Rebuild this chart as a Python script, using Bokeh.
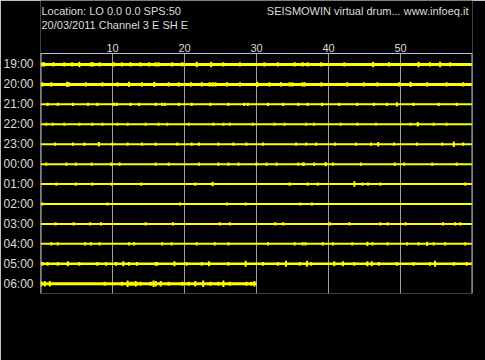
from bokeh.plotting import figure
from bokeh.models import Range1d, FixedTicker, ColumnDataSource
from bokeh.core.properties import value
from bokeh.embed import file_html
from bokeh.resources import INLINE

# ---------------- data ----------------
hours = ["19:00", "20:00", "21:00", "22:00", "23:00", "00:00",
         "01:00", "02:00", "03:00", "04:00", "05:00", "06:00"]
minute_ticks = [10, 20, 30, 40, 50]
minute_labels = ["10", "20", "30", "40", "50"]
trace_end = [60, 60, 60, 60, 60, 60, 60, 60, 60, 60, 60, 30]

header_left_1 = "Location: LO 0.0 0.0 SPS:50"
header_left_2 = "20/03/2011  Channel 3 E SH E"
header_right = "SEISMOWIN virtual drum... www.infoeq.it"

# spike times (minutes) and amplitudes (counts) per hour line
t_1900 = [0.3, 0.5, 1.8, 3.3, 4.4, 5.4, 7.0, 7.3, 8.2, 10.2, 11.3, 12.5, 13.9, 15.1, 16.0, 16.4, 18.3,
          19.7, 21.7, 23.7, 25.4, 27.7, 31.1, 33.0, 35.3, 36.4, 37.1, 39.0, 42.2, 46.2, 48.4, 52.5,
          54.1, 55.5, 56.9]
a_1900 = [1, 1, 1, 1, 1, 2, 1, 1, 1, 1, 1, 1, 1, 1, 1, 1, 1,
          1, 2, 2, 1, 1, 1, 1, 1, 1, 1, 1, 1, 2, 1, 2,
          1, 2, 1]
t_2000 = [0.25, 1.5, 3.7, 4.0, 6.3, 8.6, 10.7, 12.3, 14.1, 15.8, 17.8, 19.2, 20.9, 22.4, 23.5, 23.9,
          24.3, 25.9, 27.7, 30.1, 31.8, 33.4, 34.6, 35.0, 36.4, 36.7, 39.0, 42.6, 44.9, 46.8, 49.8,
          51.4, 53.7, 56.4, 58.7]
a_2000 = [1, 1, 2, 1, 1, 1, 1, 2, 1, 2, 1, 1, 1, 1, 1, 1,
          1, 1, 1, 2, 1, 1, 1, 1, 1, 1, 1, 1, 1, 1, 1,
          2, 1, 1, 1]
t_2100 = [1.0, 2.4, 4.5, 6.6, 7.9, 10.2, 10.6, 12.5, 13.7, 16.0, 16.9, 17.3, 19.2, 21.0, 23.6, 26.1,
          28.3, 28.8, 31.6, 33.7, 35.8, 37.1, 39.1, 41.5, 44.0, 46.3, 48.1, 49.5, 51.8, 55.3, 57.8]
a_2100 = [1, 1, 1, 1, 1, 1, 1, 1, 1, 1, 1, 1, 1, 1, 1, 1,
          1, 1, 1, 1, 1, 1, 1, 1, 1, 1, 1, 2, 1, 1, 1]
t_2200 = [0.8, 1.7, 3.3, 5.4, 7.2, 8.6, 10.7, 12.1, 14.6, 16.4, 17.6, 20.6, 24.0, 25.4, 26.3, 29.5,
          32.5, 33.9, 36.9, 38.0, 41.7, 44.0, 46.6, 51.4, 52.4, 54.6, 56.4]
a_2200 = [1, 1, 1, 1, 1, 1, 1, 1, 1, 1, 1, 1, 1, 1, 1, 1,
          1, 1, 1, 1, 1, 1, 1, 1, 2, 1, 1]
t_2300 = [2.0, 4.5, 6.1, 8.1, 10.0, 12.1, 14.1, 16.0, 19.0, 21.0, 22.0, 24.7, 26.8, 28.6, 30.9, 35.5,
          36.9, 38.3, 40.9, 43.8, 45.9, 46.9, 49.1, 52.3, 55.8, 57.4, 58.7]
a_2300 = [1, 1, 1, 2, 1, 1, 1, 1, 1, 1, 1, 1, 1, 1, 1, 1,
          1, 1, 1, 1, 1, 2, 1, 1, 1, 3, 1]
t_0000 = [0.8, 3.6, 4.9, 7.1, 9.8, 11.0, 16.0, 17.8, 22.0, 24.7, 26.1, 27.5, 30.0, 31.4, 32.8, 35.8,
          36.4, 36.6, 38.0, 39.6, 40.6, 44.5, 49.2, 50.5, 54.4, 57.8]
a_0000 = [1, 1, 1, 1, 1, 1, 1, 1, 1, 1, 1, 1, 1, 1, 1, 1,
          1, 1, 1, 2, 1, 1, 1, 1, 1, 1]
t_0100 = [2.2, 4.9, 7.2, 9.9, 14.0, 21.5, 23.9, 34.6, 37.1, 38.5, 43.6, 44.7, 45.5, 47.2, 59.0]
a_0100 = [1, 1, 1, 1, 1, 1, 2, 1, 1, 1, 3, 1, 1, 1, 1]
t_0200 = [0.25, 9.3, 19.4, 25.9, 28.5, 36.1, 37.7]
a_0200 = [1, 1, 1, 1, 1, 1, 1]
t_0300 = [2.1, 4.6, 6.9, 8.4, 14.6, 18.4, 24.9, 26.3, 32.6, 33.7, 40.2, 42.9, 47.2, 48.2, 50.7, 55.9,
          57.6, 58.3]
a_0300 = [1, 1, 1, 1, 1, 1, 1, 1, 1, 1, 1, 1, 1, 1, 1, 1, 1, 1]
t_0400 = [1.5, 2.4, 6.2, 7.0, 8.2, 12.3, 13.0, 16.9, 18.2, 21.7, 24.2, 26.1, 31.6, 35.3, 36.4, 36.8,
          39.2, 40.6, 43.3, 45.4, 46.1, 48.2, 50.9, 52.5, 53.7, 54.6, 56.2, 59.0]
a_0400 = [1, 1, 1, 1, 1, 1, 1, 1, 1, 1, 1, 1, 1, 1, 1, 1,
          1, 1, 1, 2, 1, 1, 1, 1, 2, 1, 1, 1]
t_0500 = [0.25, 1.0, 2.4, 3.8, 5.4, 7.9, 9.1, 10.5, 11.5, 12.3, 13.4, 16.0, 16.2, 18.6, 20.3, 22.4,
          23.4, 26.1, 28.5, 30.9, 33.0, 34.1, 36.0, 37.0, 37.6, 40.8, 42.0, 43.6, 45.4, 46.0, 47.0,
          49.5, 51.8, 54.1, 54.8, 57.4, 59.2]
a_0500 = [1, 1, 1, 2, 1, 1, 1, 1, 2, 1, 1, 1, 1, 2, 1, 1,
          2, 1, 3, 1, 1, 3, 1, 3, 1, 2, 2, 1, 2, 2, 1,
          1, 1, 1, 3, 1, 1]
t_0600 = [0.1, 0.6, 1.3, 8.9, 11.3, 12.1, 12.5, 12.8, 13.2, 13.4, 13.9, 15.3, 15.7, 16.0, 16.7, 17.8,
          19.7, 20.6, 21.5, 22.6, 23.6, 24.7, 25.4, 26.3, 28.6, 29.3, 29.7]
a_0600 = [2, 2, 2, 1, 1, 3, 1, 1, 2, 1, 1, 1, 3, 2, 2, 1,
          1, 1, 2, 3, 1, 1, 3, 1, 1, 1, 2]

spike_times = [t_1900, t_2000, t_2100, t_2200, t_2300, t_0000, t_0100, t_0200, t_0300, t_0400, t_0500, t_0600]
spike_amps = [a_1900, a_2000, a_2100, a_2200, a_2300, a_0000, a_0100, a_0200, a_0300, a_0400, a_0500, a_0600]

# ---------------- styles / layout ----------------
YELLOW = "#ffff00"
TEXT = "#dcdcdc"
GRID = "#a0a0a0"
BORDER = "#c0c0c0"
FONT = "Liberation Sans"
line_widths = [3, 3, 2, 2, 2, 2, 2, 2, 2, 2, 2.5, 3]
PX_PER_COUNT = 0.6

W, H = 485, 360
FRAME_LEFT, FRAME_RIGHT = 37, 472      # canvas px
DRUM_TOP_PX, FRAME_BOTTOM_PX = 53, 293  # canvas px
ROW_PX = 19.93
X_MIN, X_MAX = 0, 60
Y_TOP = 0.55                            # drum top, in row units above first row
Y_BOT = -11.49
Y_MAX = Y_TOP + DRUM_TOP_PX / ROW_PX    # frame extends to canvas top for header texts
px_per_min = (FRAME_RIGHT - FRAME_LEFT) / (X_MAX - X_MIN)


def cx(px):
    return X_MIN + (px - FRAME_LEFT) / px_per_min


def cy(py):
    return Y_TOP + (DRUM_TOP_PX - py) / ROW_PX


p = figure(width=W, height=H, output_backend="svg", toolbar_location=None,
           x_range=Range1d(X_MIN, X_MAX), y_range=Range1d(Y_BOT, Y_MAX),
           x_axis_location=None,
           min_border_left=FRAME_LEFT, min_border_right=W - FRAME_RIGHT,
           min_border_top=0, min_border_bottom=H - FRAME_BOTTOM_PX,
           background_fill_color="black", border_fill_color="black",
           outline_line_color=None)

# no automatic grids (the drum grid is drawn below, inside the drum area only)
for g in p.grid:
    g.grid_line_color = None
    g.visible = False

# hour labels through a real axis
p.yaxis.ticker = FixedTicker(ticks=[-i for i in range(len(hours))])
p.yaxis.major_label_overrides = {-i: hr for i, hr in enumerate(hours)}
p.yaxis.axis_line_color = None
p.yaxis.major_tick_line_color = None
p.yaxis.minor_tick_line_color = None
p.yaxis.major_tick_out = 0
p.yaxis.major_label_text_color = TEXT
p.yaxis.major_label_text_font = FONT
p.yaxis.major_label_text_font_size = "12px"
p.yaxis.major_label_standoff = 7

# minute grid lines (drum area only)
p.segment(x0=minute_ticks, x1=minute_ticks, y0=[Y_BOT] * len(minute_ticks),
          y1=[Y_TOP] * len(minute_ticks), line_color=GRID, line_width=1)

# minute labels above the drum
p.text(x=minute_ticks, y=[cy(47)] * len(minute_ticks), text=minute_labels,
       text_align="center", text_baseline="alphabetic", text_font=value(FONT),
       text_font_size="11px", text_color=TEXT)

# header texts
p.text(x=[cx(38), cx(38)], y=[cy(4), cy(18)], text=[header_left_1, header_left_2],
       text_baseline="top", text_align="left", text_font=value(FONT),
       text_font_size="11px", text_color=TEXT)
p.text(x=[cx(468)], y=[cy(4)], text=[header_right],
       text_baseline="top", text_align="right", text_font=value(FONT),
       text_font_size="11px", text_color=TEXT)

# base traces
rows_y = [-i for i in range(len(hours))]
base = ColumnDataSource(dict(x0=[X_MIN] * len(hours), x1=trace_end, y=rows_y, lw=line_widths))
p.segment(x0="x0", y0="y", x1="x1", y1="y", line_width="lw", line_color=YELLOW,
          line_cap="butt", source=base)

# spikes
sx, sy0, sy1 = [], [], []
for i, (ts, amps) in enumerate(zip(spike_times, spike_amps)):
    for t, a in zip(ts, amps):
        half = (line_widths[i] / 2 + PX_PER_COUNT * a) / ROW_PX
        sx.append(t)
        sy0.append(-i - half)
        sy1.append(-i + half)
spk = ColumnDataSource(dict(x=sx, y0=sy0, y1=sy1))
p.segment(x0="x", y0="y0", x1="x", y1="y1", line_width=2, line_color=YELLOW,
          line_cap="butt", source=spk)

# drum border: left, right, top (no bottom)
p.segment(x0=[X_MIN, X_MAX], x1=[X_MIN, X_MAX], y0=[Y_BOT, Y_BOT], y1=[Y_TOP, Y_TOP],
          line_color=BORDER, line_width=2)
p.segment(x0=[X_MIN], x1=[X_MAX], y0=[Y_TOP], y1=[Y_TOP], line_color=BORDER, line_width=1)

open("out.html", "w").write(file_html(p, INLINE))
